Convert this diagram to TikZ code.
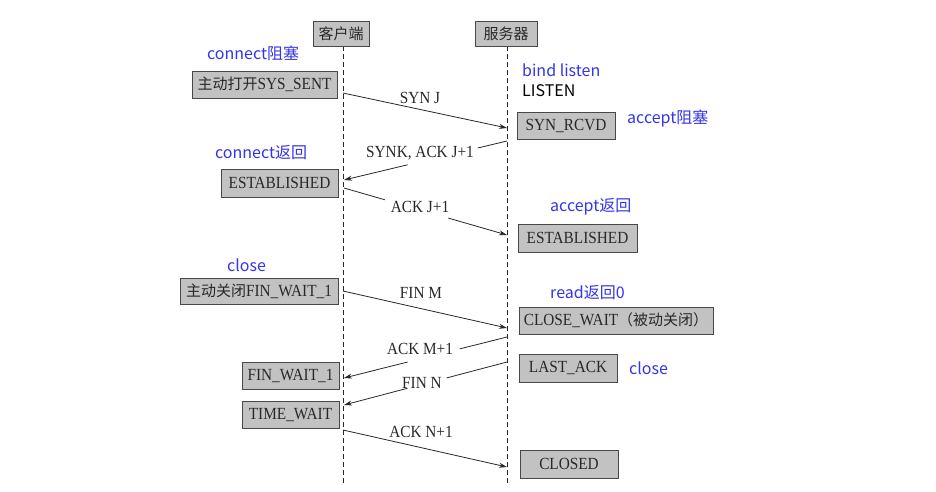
\documentclass[tikz,border=0pt]{standalone}
\usepackage{fontspec}
\usepackage{graphicx}
\setmainfont{Liberation Serif}
\newfontfamily\cjk{Noto Sans CJK SC}
\usetikzlibrary{arrows.meta,calc}
\definecolor{boxfill}{RGB}{194,194,194}
\definecolor{boxline}{RGB}{72,72,72}
\definecolor{ink}{RGB}{40,40,40}
\definecolor{notec}{RGB}{52,52,235}
\newcommand\lat[1]{\scalebox{0.9}[1]{#1}}
\newcommand\cj[1]{{\cjk\fontsize{15}{18}\selectfont #1}}
\tikzset{
  stbox/.style={draw=boxline, fill=boxfill, line width=0.9pt, inner sep=0pt,
    text=ink, font=\fontsize{17}{20}\selectfont},
  notetxt/.style={text=notec, font=\cjk\fontsize{16}{19}\selectfont, inner sep=0pt, anchor=west},
  blacktxt/.style={text=black, font=\cjk\fontsize{16}{19}\selectfont, inner sep=0pt, anchor=west},
  msg/.style={text=ink, font=\fontsize{17}{20}\selectfont, inner sep=0pt},
  life/.style={draw=ink, line width=0.8pt, dash pattern=on 5pt off 3pt},
  conn/.style={draw=ink, line width=0.8pt},
  arr/.style={draw=ink, line width=0.8pt, -{Stealth[length=8pt,width=5pt]}}
}
\begin{document}
\begin{tikzpicture}[x=1pt,y=-1pt]
\useasboundingbox (0,0) rectangle (936,491);
\fill[white] (0,0) rectangle (936,491);

% lifelines
\coordinate (cTop) at (343,46);
\coordinate (cBot) at (343,485);
\coordinate (sTop) at (507,46);
\coordinate (sBot) at (507,485);
\draw[life] (cTop) -- (cBot);
\draw[life] (sTop) -- (sBot);

% header boxes
\node[stbox, minimum width=56pt, minimum height=25pt] (client) at (341,33.5) {\cj{客户端}};
\node[stbox, minimum width=62pt, minimum height=25pt] (server) at (506,33.5) {\cj{服务器}};

% state boxes
\node[stbox, minimum width=145pt, minimum height=27pt] (synsent) at (264.5,84.5) {\cj{主动打开}\lat{SYS\_SENT}};
\node[stbox, minimum width=98pt, minimum height=27pt] (synrcvd) at (566,125.5) {\lat{SYN\_RCVD}};
\node[stbox, minimum width=117pt, minimum height=28pt] (estL) at (279.5,183) {\lat{ESTABLISHED}};
\node[stbox, minimum width=119pt, minimum height=28pt] (estR) at (577.5,238) {\lat{ESTABLISHED}};
\node[stbox, minimum width=158pt, minimum height=26pt] (finwaitA) at (259,291.5) {\cj{主动关闭}\lat{FIN\_WAIT\_1}};
\node[stbox, minimum width=194pt, minimum height=27pt] (closewait) at (616,320.5) {\lat{CLOSE\_WAIT}\cj{（被动关闭）}};
\node[stbox, minimum width=98pt, minimum height=28pt] (lastack) at (568,368) {\lat{LAST\_ACK}};
\node[stbox, minimum width=97pt, minimum height=27pt] (finwaitB) at (290.5,375.5) {\lat{FIN\_WAIT\_1}};
\node[stbox, minimum width=97pt, minimum height=27pt] (timewait) at (290.5,414.5) {\lat{TIME\_WAIT}};
\node[stbox, minimum width=98pt, minimum height=28pt] (closed) at (569,464) {\lat{CLOSED}};

% annotations
\node[notetxt] (n1) at (207,53) {connect阻塞};
\node[notetxt] (n2) at (522,70) {bind listen};
\node[blacktxt] (n3) at (522,91) {LISTEN};
\node[notetxt] (n4) at (627,119) {accept阻塞};
\node[notetxt] (n5) at (215,153) {connect返回};
\node[notetxt] (n6) at (550,207) {accept返回};
\node[notetxt] (n7) at (227,265) {close};
\node[notetxt] (n8) at (550,293) {read返回0};
\node[notetxt] (n9) at (629,368) {close};

% messages
\coordinate (m1a) at (343,93);  \coordinate (m1b) at (507,128);
\draw[arr] (m1a) -- (m1b);
\node[msg] (l1) at (420,98) {\lat{SYN J}};

\coordinate (m2a) at (507,141); \coordinate (m2b) at (344,180);
\draw[conn] (m2a) -- ($(m2a)!0.18!(m2b)$);
\draw[arr] ($(m2a)!0.61!(m2b)$) -- (m2b);
\node[msg] (l2) at (420,153) {\lat{SYNK, ACK J+1}};

\coordinate (m3a) at (344,188); \coordinate (m3b) at (507,235);
\draw[conn] (m3a) -- ($(m3a)!0.25!(m3b)$);
\draw[arr] ($(m3a)!0.64!(m3b)$) -- (m3b);
\node[msg] (l3) at (420,207) {\lat{ACK J+1}};

\coordinate (m4a) at (343,291); \coordinate (m4b) at (507,328);
\draw[arr] (m4a) -- (m4b);
\node[msg] (l4) at (421,293) {\lat{FIN M}};

\coordinate (m5a) at (507,337); \coordinate (m5b) at (344,378);
\draw[conn] (m5a) -- ($(m5a)!0.29!(m5b)$);
\draw[arr] ($(m5a)!0.61!(m5b)$) -- (m5b);
\node[msg] (l5) at (420,349) {\lat{ACK M+1}};

\coordinate (m6a) at (507,362); \coordinate (m6b) at (344,405);
\draw[conn] (m6a) -- ($(m6a)!0.37!(m6b)$);
\draw[arr] ($(m6a)!0.61!(m6b)$) -- (m6b);
\node[msg] (l6) at (422,383) {\lat{FIN N}};

\coordinate (m7a) at (343,430); \coordinate (m7b) at (507,467);
\draw[arr] (m7a) -- (m7b);
\node[msg] (l7) at (421,432) {\lat{ACK N+1}};
\end{tikzpicture}
\end{document}
